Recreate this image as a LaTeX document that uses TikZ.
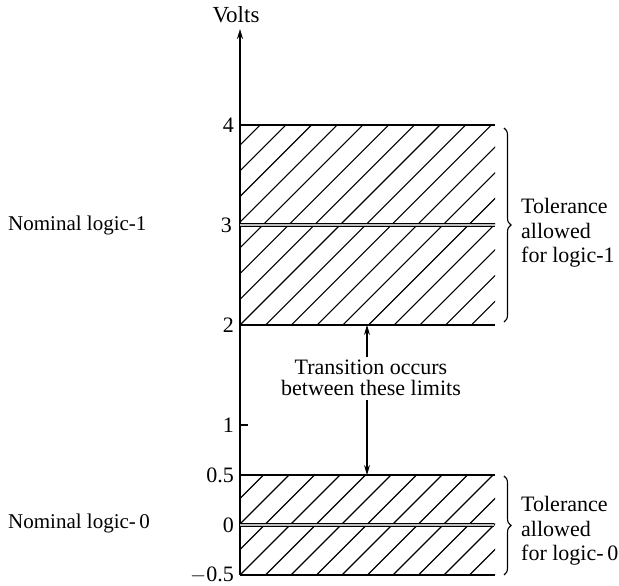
\documentclass[tikz,border=0pt]{standalone}
\usepackage{fontspec}
\setmainfont{Liberation Serif}
\usetikzlibrary{arrows.meta,decorations.pathreplacing}
\begin{document}
\begin{tikzpicture}[x=1pt,y=100pt,
  lbl/.style={font=\fontsize{21}{24.5}\selectfont, inner sep=0pt},
  numlbl/.style={font=\fontsize{22}{24}\selectfont, inner sep=0pt, anchor=east},
  boxline/.style={line width=1.7pt},
  hatchline/.style={line width=1.1pt},
  nominal/.style={line width=1.3pt, double=gray!50, double distance=1.2pt},
  arr/.style={line width=1.1pt, -{Stealth[length=10pt,width=6pt]}},
  tolbrace/.style={line width=1.1pt, decorate, decoration={brace, amplitude=7pt}}]
\begin{scope}[yshift=61pt]
\useasboundingbox (0,-0.61) rectangle (619,5.25);

% voltage axis
\coordinate (axb) at (240,-0.5);
\coordinate (axt) at (240,4.96);
\draw[line width=1.7pt, -{Stealth[length=10pt,width=6pt]}] (axb) -- (axt);
\node[font=\fontsize{23}{24}\selectfont, inner sep=0pt] (volts) at (236,5.1) {Volts};

% band limits
\coordinate (hiT) at (240,4);  \coordinate (hiTr) at (495,4);
\coordinate (hiM) at (240,3);  \coordinate (hiMr) at (495,3);
\coordinate (hiB) at (240,2);  \coordinate (hiBr) at (495,2);
\coordinate (loT) at (240,0.5);  \coordinate (loTr) at (495,0.5);
\coordinate (loM) at (240,0);    \coordinate (loMr) at (494,0);
\coordinate (loB) at (240,-0.5); \coordinate (loBr) at (495,-0.5);

% hatching of the logic-1 band
\begin{scope}
  \clip (hiB) rectangle (hiTr);
  \foreach \i in {-8,...,10}
    \draw[hatchline] (240+25.7*\i,2) -- ++(200,2);
\end{scope}
% hatching of the logic-0 band
\begin{scope}
  \clip (loB) rectangle (loTr);
  \foreach \i in {-4,...,10}
    \draw[hatchline] (240+25.5*\i,-0.5) -- ++(100,1);
\end{scope}

% band edges
\draw[boxline] (hiT) -- (hiTr);
\draw[boxline] (hiB) -- (hiBr);
\draw[boxline] (loT) -- (loTr);
\draw[boxline] (loB) -- (loBr);

% nominal levels
\draw[nominal] (hiM) -- (hiMr);
\draw[nominal] (loM) -- (loMr);

% tick at 1 V
\coordinate (t1) at (240,1);
\coordinate (t1r) at (248,1);
\draw[line width=1.4pt] (t1) -- (t1r);

% scale numbers
\node[numlbl] (n4) at (234,4) {4};
\node[numlbl] (n3) at (232,3) {3};
\node[numlbl] (n2) at (234,2) {2};
\node[numlbl] (n1) at (234,1) {1};
\node[numlbl] (n05) at (234,0.5) {0.5};
\node[numlbl] (n0) at (234,0) {0};
\node[numlbl] (nm05) at (234,-0.5) {$-$0.5};

% nominal level labels
\node[lbl, anchor=west] (nom1) at (8,3.0) {Nominal logic-1};
\node[lbl, anchor=west] (nom0) at (8,0.02) {Nominal logic-\,0};

% tolerance braces and labels
\draw[tolbrace] (504,3.97) -- (504,2.03);
\draw[tolbrace] (504,0.49) -- (504,-0.5);
\node[lbl, font=\fontsize{22}{24.5}\selectfont, anchor=west, align=left] (tol1) at (521,2.92)
  {Tolerance\\allowed\\for logic-1};
\node[lbl, font=\fontsize{22}{24.5}\selectfont, anchor=west, align=left] (tol0) at (521,-0.06)
  {Tolerance\\allowed\\for logic-\,0};

% transition region
\node[lbl, font=\fontsize{22}{21}\selectfont, align=center, inner sep=3pt] (trans) at (371,1.47)
  {Transition occurs\\between these limits};
\coordinate (up0) at (367,1.68);
\coordinate (up1) at (367,2);
\coordinate (dn0) at (367,1.25);
\coordinate (dn1) at (367,0.5);
\draw[arr] (up0) -- (up1);
\draw[arr] (dn0) -- (dn1);
\end{scope}
\end{tikzpicture}
\end{document}
